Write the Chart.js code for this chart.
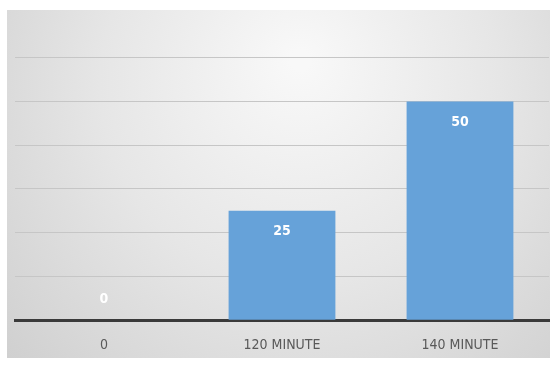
<!DOCTYPE html>
<html lang="en">
<head>
  <meta charset="UTF-8" />
  <title>Minute chart</title>
  <script src="https://cdn.jsdelivr.net/npm/chart.js"></script>
  <style>
    html, body { margin: 0; padding: 0; background: #fff; }
    #wrap { width: 550px; height: 365px; position: relative; }
  </style>
</head>
<body>
  <div id="wrap"><canvas id="minuteChart"></canvas></div>

  <script>
    // chart data
    const categories = ["0", "120 MINUTE", "140 MINUTE"];
    const values = [0, 25, 50];
    const yTicks = [0, 10, 20, 30, 40, 50, 60, 70];

    const labelFont = "'DejaVu Sans Condensed', 'Open Sans', sans-serif";

    // grey panel behind the plot, light in the middle and darker at the edges
    const panelBg = {
      id: "panelBg",
      beforeDraw(chart) {
        const ctx = chart.ctx;
        const w = chart.width, h = chart.height;
        ctx.save();
        const g = ctx.createRadialGradient(300, 60, 10, 300, 110, 390);
        g.addColorStop(0, "#f8f8f8");
        g.addColorStop(0.5, "#e6e6e6");
        g.addColorStop(1, "#cfcfcf");
        ctx.fillStyle = g;
        ctx.fillRect(7, 10, w - 7, h - 17);
        ctx.restore();
      }
    };

    // white value labels, just inside the top of each bar
    const valueLabels = {
      id: "valueLabels",
      afterDatasetsDraw(chart) {
        const ctx = chart.ctx;
        const meta = chart.getDatasetMeta(0);
        ctx.save();
        ctx.fillStyle = "#ffffff";
        ctx.font = "bold 14px " + labelFont;
        ctx.textAlign = "center";
        ctx.textBaseline = "middle";
        meta.data.forEach((bar, i) => {
          const hgt = bar.base - bar.y;
          const y = hgt < 42 ? bar.base - 21 : bar.y + 21;
          ctx.fillText(String(values[i]), bar.x, y);
        });
        ctx.restore();
      }
    };

    new Chart(document.getElementById("minuteChart"), {
      type: "bar",
      data: {
        labels: categories,
        datasets: [{
          data: values,
          backgroundColor: "#66a2d9",
          barPercentage: 0.6,
          categoryPercentage: 1.0
        }]
      },
      options: {
        responsive: true,
        maintainAspectRatio: false,
        animation: false,
        layout: { padding: { left: 15, right: 1, top: 14, bottom: 2 } },
        plugins: {
          legend: { display: false },
          tooltip: { enabled: false }
        },
        scales: {
          x: {
            grid: { display: false },
            border: { display: true, color: "#3a3a3a", width: 3 },
            ticks: {
              color: "#595959",
              padding: 9,
              font: { family: labelFont, size: 14 }
            }
          },
          y: {
            display: true,
            min: 0,
            max: 70,
            afterBuildTicks(scale) {
              scale.ticks = yTicks.map(v => ({ value: v }));
            },
            afterFit(scale) { scale.width = 0; },
            ticks: { display: false },
            border: { display: false },
            grid: {
              drawTicks: false,
              lineWidth: 1,
              color: ctx => (ctx.tick.value === 0 || ctx.tick.value === 70) ? "rgba(0,0,0,0)" : "#c6c6c6"
            }
          }
        }
      },
      plugins: [panelBg, valueLabels]
    });
  </script>
</body>
</html>
